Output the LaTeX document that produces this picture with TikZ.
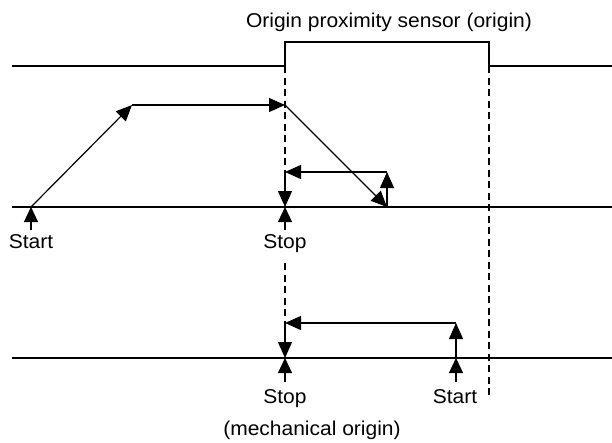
\documentclass[tikz,border=0pt]{standalone}
\usepackage{fontspec}
\setmainfont{Liberation Sans}[FakeStretch=1.05]
\usetikzlibrary{arrows.meta}
\begin{document}
\begin{tikzpicture}[x=1pt,y=-1pt,
  sig/.style={line width=1.4pt},
  axisline/.style={line width=1.4pt},
  mv/.style={line width=1.2pt,-{Triangle[length=16pt,width=14pt]}},
  mark up/.style={line width=1.2pt,-{Triangle[length=15pt,width=14pt]}},
  guide/.style={line width=1.2pt,dash pattern=on 7pt off 4.5pt},
  lbl/.style={font=\fontsize{20}{24}\selectfont,inner sep=0pt,anchor=base}]
\useasboundingbox (0,0) rectangle (612,442);
% origin proximity sensor signal
\coordinate (s0) at (12,66);
\coordinate (r0) at (285,66);
\coordinate (r1) at (285,42);
\coordinate (f1) at (489,42);
\coordinate (f0) at (489,66);
\coordinate (s1) at (612,66);
\draw[sig] (s0) -- (r0) -- (r1) -- (f1) -- (f0) -- (s1);
\node[lbl] (sensor) at (389,27.5) {Origin proximity sensor (origin)};
% axes
\coordinate (m0) at (12,207);
\coordinate (m1) at (612,207);
\coordinate (l0) at (12,358);
\coordinate (l1) at (612,358);
\draw[axisline] (m0) -- (m1);
\draw[axisline] (l0) -- (l1);
% first motion
\coordinate (A) at (31,207);
\coordinate (B) at (132,105);
\coordinate (C) at (285,105);
\coordinate (D) at (387,207);
\coordinate (E) at (387,172);
\coordinate (F) at (285,172);
\coordinate (G) at (285,207);
\draw[mv] (A) -- (B);
\draw[mv] (B) -- (C);
\draw[mv] (C) -- (D);
\draw[mv] (D) -- (E);
\draw[mv] (E) -- (F);
\draw[mv] (F) -- (G);
% second motion
\coordinate (H) at (456,358);
\coordinate (I) at (456,323);
\coordinate (J) at (285,323);
\coordinate (K) at (285,358);
\draw[mv] (H) -- (I);
\draw[mv] (I) -- (J);
\draw[mv] (J) -- (K);
% guide lines
\coordinate (g1) at (285,263);
\coordinate (fb) at (489,397);
\draw[guide] (r0) -- (F);
\draw[guide] (g1) -- (J);
\draw[guide] (f0) -- (fb);
% start / stop markers
\coordinate (a1) at (31,230);
\coordinate (a2) at (285,230);
\coordinate (a3) at (285,382);
\coordinate (a4) at (456,382);
\draw[mark up] (a1) -- (A);
\draw[mark up] (a2) -- (G);
\draw[mark up] (a3) -- (K);
\draw[mark up] (a4) -- (H);
\node[lbl] (start1) at (31,248) {Start};
\node[lbl] (stop1) at (285,248) {Stop};
\node[lbl] (stop2) at (285,403) {Stop};
\node[lbl] (start2) at (455,403) {Start};
\node[lbl] (mech) at (312,435.5) {(mechanical origin)};
\end{tikzpicture}
\end{document}
